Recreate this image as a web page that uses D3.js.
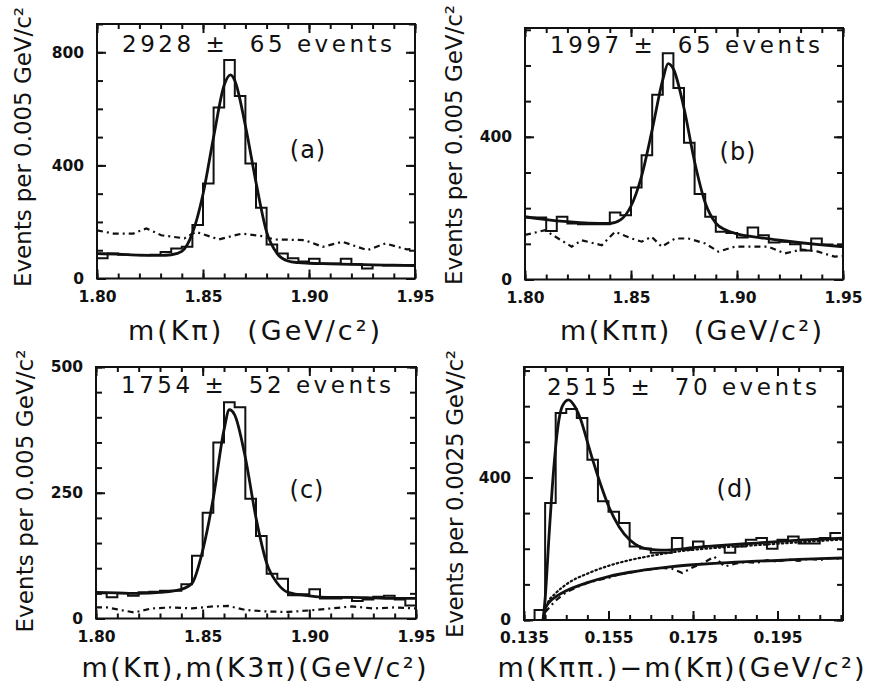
<!DOCTYPE html>
<html>
<head>
<meta charset="utf-8">
<script src="https://cdn.jsdelivr.net/npm/d3@7"></script>
<style>
  body { margin: 0; background: #fff; }
  svg { display: block; font-family: "DejaVu Sans", Verdana, sans-serif; }
  text { white-space: pre; fill: #111; }
</style>
</head>
<body>
<div id="chart"></div>
<script>
// ---- data ----

// (a) m(K pi), bins of 0.005 from 1.80
const aCounts = [72,88,84,83,82,84,94,106,112,189,336,605,773,645,407,250,120,88,72,60,70,53,53,70,50,35,48,46,46,46];
const aFitX = [1.800,1.810,1.820,1.830,1.835,1.840,1.845,1.850,1.855,1.860,1.863,1.865,1.870,1.875,1.880,1.885,1.890,1.895,1.900,1.910,1.920,1.930,1.940,1.950];
const aFitY = [88,86,83,82,84,96,160,298,500,684,720,700,540,340,165,88,62,56,54,52,50,48,47,46];
const aSideX = [1.800,1.8078,1.8171,1.8233,1.8303,1.8412,1.8466,1.8575,1.8684,1.8777,1.8839,1.8979,1.9065,1.9158,1.9275,1.936,1.9461,1.950];
const aSideY = [170,159,159,177,153,142,165,138,159,150,138,136,112,130,100,124,103,105];

// (b) m(K pi pi)
const bCounts = [174,174,136,176,157,155,155,155,188,180,258,348,518,634,537,383,240,176,134,130,118,146,124,104,106,99,81,115,98,94];
const bFitX = [1.800,1.810,1.820,1.830,1.840,1.845,1.850,1.855,1.860,1.865,1.8675,1.870,1.875,1.880,1.885,1.890,1.895,1.900,1.910,1.920,1.930,1.940,1.950];
const bFitY = [176,168,162,158,157,167,206,290,420,560,605,590,480,330,215,158,138,128,118,110,103,97,92];
const bSideX = [1.800,1.803,1.8094,1.8157,1.822,1.8267,1.8362,1.8425,1.8503,1.855,1.8597,1.8645,1.8708,1.877,1.885,1.8912,1.899,1.907,1.9148,1.9226,1.9305,1.9383,1.946,1.950];
const bSideY = [125,129,138,115,92,110,96,134,115,106,120,92,115,115,101,78,92,92,92,73,84,78,64,66];

// (c) m(K pi), m(K 3pi)
const cCounts = [50,42,50,45,52,53,55,55,68,125,210,350,430,420,238,164,89,79,46,48,58,40,40,42,35,38,43,45,38,26];
const cFitX = [1.800,1.810,1.820,1.830,1.840,1.845,1.850,1.855,1.860,1.8625,1.865,1.870,1.875,1.880,1.885,1.890,1.900,1.910,1.920,1.930,1.940,1.950];
const cFitY = [52,51,50,52,58,70,135,240,375,415,405,320,200,110,70,52,45,42,42,41,40,40];
const cSideX = [1.800,1.805,1.810,1.818,1.826,1.835,1.845,1.855,1.862,1.870,1.880,1.890,1.900,1.910,1.920,1.930,1.940,1.950];
const cSideY = [22,22,18,12,20,22,20,24,25,17,14,13,16,20,24,20,22,20];

// (d) mass difference, bins of 0.0025 from 0.1375
const dCounts = [28,328,581,592,567,450,333,304,272,206,201,189,189,230,197,220,208,206,189,206,225,230,200,225,234,215,215,230,244];
const dFitX = [0.1395,0.1400,0.1410,0.1420,0.1430,0.1440,0.1455,0.1470,0.1485,0.1500,0.1515,0.1530,0.1550,0.1575,0.1600,0.1625,0.1650,0.1675,0.1700,0.1750,0.1800,0.1850,0.1900,0.1950,0.2000,0.2050,0.2105];
const dFitY = [0,60,250,420,540,598,618,600,560,500,440,385,320,262,225,205,198,196,197,203,208,212,216,220,224,227,230];
const dBkgX = [0.1396,0.1400,0.1410,0.1425,0.1450,0.1500,0.1550,0.1600,0.1650,0.1700,0.1750,0.1800,0.1850,0.1900,0.1950,0.2000,0.2050,0.2105];
const dBkgY = [0,30,50,65,82,105,122,134,143,150,155,159,162,165,167,170,172,174];
const dDotX = [0.1396,0.1405,0.1425,0.1450,0.1500,0.1550,0.1600,0.1650,0.1700,0.1750,0.1800,0.1900,0.2000,0.2105];
const dDotY = [0,45,75,100,130,152,168,180,190,197,202,210,218,226];
const dWsX = [0.1400,0.1425,0.1450,0.1475,0.1500,0.1525,0.1550,0.1575,0.1600,0.1625,0.1650,0.1675,0.1700,0.1725,0.1750,0.1775,0.1800,0.1825,0.1850,0.1875,0.1900,0.1925,0.1950,0.1975,0.2000,0.2025,0.2050,0.2075,0.2100];
const dWsY = [22,55,78,92,104,112,118,128,133,138,142,146,144,132,148,160,178,150,158,163,160,168,164,170,166,172,168,174,172];

const titles = ["2928 \u00b1  65 events", "1997 \u00b1  65 events", "1754 \u00b1  52 events", "2515 \u00b1  70 events"];
const tags = ["(a)", "(b)", "(c)", "(d)"];
const xLabels = ["m(K\u03c0)  (GeV/c\u00b2)", "m(K\u03c0\u03c0)  (GeV/c\u00b2)", "m(K\u03c0),m(K3\u03c0)(GeV/c\u00b2)", "m(K\u03c0\u03c0.)\u2212m(K\u03c0)(GeV/c\u00b2)"];
const yLabels = ["Events per 0.005 GeV/c\u00b2", "Events per 0.005 GeV/c\u00b2", "Events per 0.005 GeV/c\u00b2", "Events per 0.0025 GeV/c\u00b2"];
const massTicks = [1.80, 1.85, 1.90, 1.95];
const deltaTicks = [0.135, 0.155, 0.175, 0.195];

// ---- layout ----
const width = 870, height = 686;
const svg = d3.select("#chart").append("svg")
    .attr("width", width)
    .attr("height", height);

const panels = [
  { left: 97, right: 415, top: 24, bottom: 278.5, xDomain: [1.80, 1.95], yMax: 900,
    counts: aCounts, binStart: 1.80, binWidth: 0.005,
    fit: [[aFitX, aFitY]], dashed: [[aSideX, aSideY]], dotted: [],
    xMajor: massTicks, xMinorStep: 0.01, xFmt: ".2f",
    yMajor: [0, 400, 800], yMinorStep: 100,
    title: [257, 52], tag: [308, 158], xLab: [254, 340, 252], yLab: [31, 147, 280] },
  { left: 525, right: 843, top: 28, bottom: 279.5, xDomain: [1.80, 1.95], yMax: 705,
    counts: bCounts, binStart: 1.80, binWidth: 0.005,
    fit: [[bFitX, bFitY]], dashed: [[bSideX, bSideY]], dotted: [],
    xMajor: massTicks, xMinorStep: 0.01, xFmt: ".2f",
    yMajor: [0, 400], yMinorStep: 100,
    title: [685, 53], tag: [738, 160], xLab: [691, 340, 262], yLab: [462, 145, 280] },
  { left: 96, right: 416, top: 367, bottom: 618.5, xDomain: [1.80, 1.95], yMax: 500,
    counts: cCounts, binStart: 1.80, binWidth: 0.005,
    fit: [[cFitX, cFitY]], dashed: [[cSideX, cSideY]], dotted: [],
    xMajor: massTicks, xMinorStep: 0.01, xFmt: ".2f",
    yMajor: [0, 250, 500], yMinorStep: 50,
    title: [256, 393], tag: [307, 498], xLab: [254, 677, 345], yLab: [33, 491, 283] },
  { left: 524, right: 843, top: 367, bottom: 620, xDomain: [0.135, 0.2105], yMax: 710,
    counts: dCounts, binStart: 0.1375, binWidth: 0.0025, fromZero: true,
    fit: [[dFitX, dFitY], [dBkgX, dBkgY]], dashed: [[dWsX, dWsY]], dotted: [[dDotX, dDotY]],
    xMajor: deltaTicks, xMinorStep: 0.005, xFmt: ".3f",
    yMajor: [0, 400], yMinorStep: 100,
    title: [682, 395], tag: [735, 497], xLab: [681, 677, 367], yLab: [463, 494, 288] }
];

function drawPanel(p, i) {
  const x = d3.scaleLinear().domain(p.xDomain).range([p.left, p.right]);
  const y = d3.scaleLinear().domain([0, p.yMax]).range([p.bottom, p.top]);
  const g = svg.append("g");

  g.append("clipPath").attr("id", "clip" + i)
    .append("rect")
      .attr("x", p.left).attr("y", p.top)
      .attr("width", p.right - p.left).attr("height", p.bottom - p.top);

  const plot = g.append("g").attr("clip-path", `url(#clip${i})`);
  const line = d3.line().x(d => x(d[0])).y(d => y(d[1]));
  const smooth = d3.line().x(d => x(d[0])).y(d => y(d[1])).curve(d3.curveMonotoneX);

  // dashed side-band / wrong-sign distributions
  p.dashed.forEach(([xs, ys]) => {
    plot.append("path")
        .attr("d", line(d3.zip(xs, ys)))
        .attr("fill", "none").attr("stroke", "#111")
        .attr("stroke-width", 2.2).attr("stroke-dasharray", "6,4,2,4");
  });

  p.dotted.forEach(([xs, ys]) => {
    plot.append("path")
        .attr("d", smooth(d3.zip(xs, ys)))
        .attr("fill", "none").attr("stroke", "#111")
        .attr("stroke-width", 2.2).attr("stroke-dasharray", "1.5,3")
        .attr("stroke-linecap", "round");
  });

  // histogram outline
  const steps = [];
  if (p.fromZero) steps.push([p.binStart, 0]);
  p.counts.forEach((c, k) => {
    steps.push([p.binStart + k * p.binWidth, c]);
    steps.push([p.binStart + (k + 1) * p.binWidth, c]);
  });
  plot.append("path")
      .attr("d", line(steps))
      .attr("fill", "none").attr("stroke", "#111")
      .attr("stroke-width", 2);

  // fit curves
  p.fit.forEach(([xs, ys]) => {
    plot.append("path")
        .attr("d", smooth(d3.zip(xs, ys)))
        .attr("fill", "none").attr("stroke", "#111")
        .attr("stroke-width", 2.8);
  });

  // frame
  g.append("rect")
      .attr("x", p.left).attr("y", p.top)
      .attr("width", p.right - p.left).attr("height", p.bottom - p.top)
      .attr("fill", "none").attr("stroke", "#111").attr("stroke-width", 2);

  // inward ticks on all four sides
  const xMinor = d3.range(p.xDomain[0], p.xDomain[1] + 1e-9, p.xMinorStep);
  const yMinor = d3.range(0, p.yMax + 1e-9, p.yMinorStep);
  const tick = (axis, tr) => g.append("g").attr("transform", tr)
      .call(axis)
      .call(a => a.select(".domain").remove())
      .call(a => a.selectAll("line").attr("stroke", "#111").attr("stroke-width", 2))
      .call(a => a.selectAll("text").attr("font-size", 15.5).attr("font-weight", "bold")
                   .attr("fill", "#111").attr("font-family", "DejaVu Sans, Verdana, sans-serif"));

  tick(d3.axisBottom(x).tickValues(xMinor).tickSize(-5).tickFormat(""), `translate(0,${p.bottom})`);
  tick(d3.axisTop(x).tickValues(xMinor).tickSize(-5).tickFormat(""), `translate(0,${p.top})`);
  tick(d3.axisBottom(x).tickValues(p.xMajor).tickSize(-9).tickPadding(12).tickFormat(d3.format(p.xFmt)), `translate(0,${p.bottom})`);
  tick(d3.axisTop(x).tickValues(p.xMajor).tickSize(-9).tickFormat(""), `translate(0,${p.top})`);
  tick(d3.axisLeft(y).tickValues(yMinor).tickSize(-6).tickFormat(""), `translate(${p.left},0)`);
  tick(d3.axisRight(y).tickValues(yMinor).tickSize(-6).tickFormat(""), `translate(${p.right},0)`);
  tick(d3.axisLeft(y).tickValues(p.yMajor).tickSize(-9).tickPadding(13).tickFormat(d3.format("d")), `translate(${p.left},0)`);
  tick(d3.axisRight(y).tickValues(p.yMajor).tickSize(-9).tickFormat(""), `translate(${p.right},0)`);

  // texts
  g.append("text")
      .attr("x", p.title[0]).attr("y", p.title[1])
      .attr("text-anchor", "middle").attr("font-size", 23)
      .attr("textLength", 270).attr("lengthAdjust", "spacing")
      .text(titles[i]);

  g.append("text")
      .attr("x", p.tag[0]).attr("y", p.tag[1])
      .attr("text-anchor", "middle").attr("font-size", 24)
      .attr("letter-spacing", 1)
      .text(tags[i]);

  g.append("text")
      .attr("x", p.xLab[0]).attr("y", p.xLab[1])
      .attr("text-anchor", "middle").attr("font-size", 27)
      .attr("textLength", p.xLab[2]).attr("lengthAdjust", "spacing")
      .text(xLabels[i]);

  g.append("text")
      .attr("transform", `translate(${p.yLab[0]},${p.yLab[1]}) rotate(-90)`)
      .attr("text-anchor", "middle").attr("font-size", 23)
      .attr("textLength", p.yLab[2]).attr("lengthAdjust", "spacing")
      .text(yLabels[i]);
}

panels.forEach(drawPanel);
</script>
</body>
</html>
